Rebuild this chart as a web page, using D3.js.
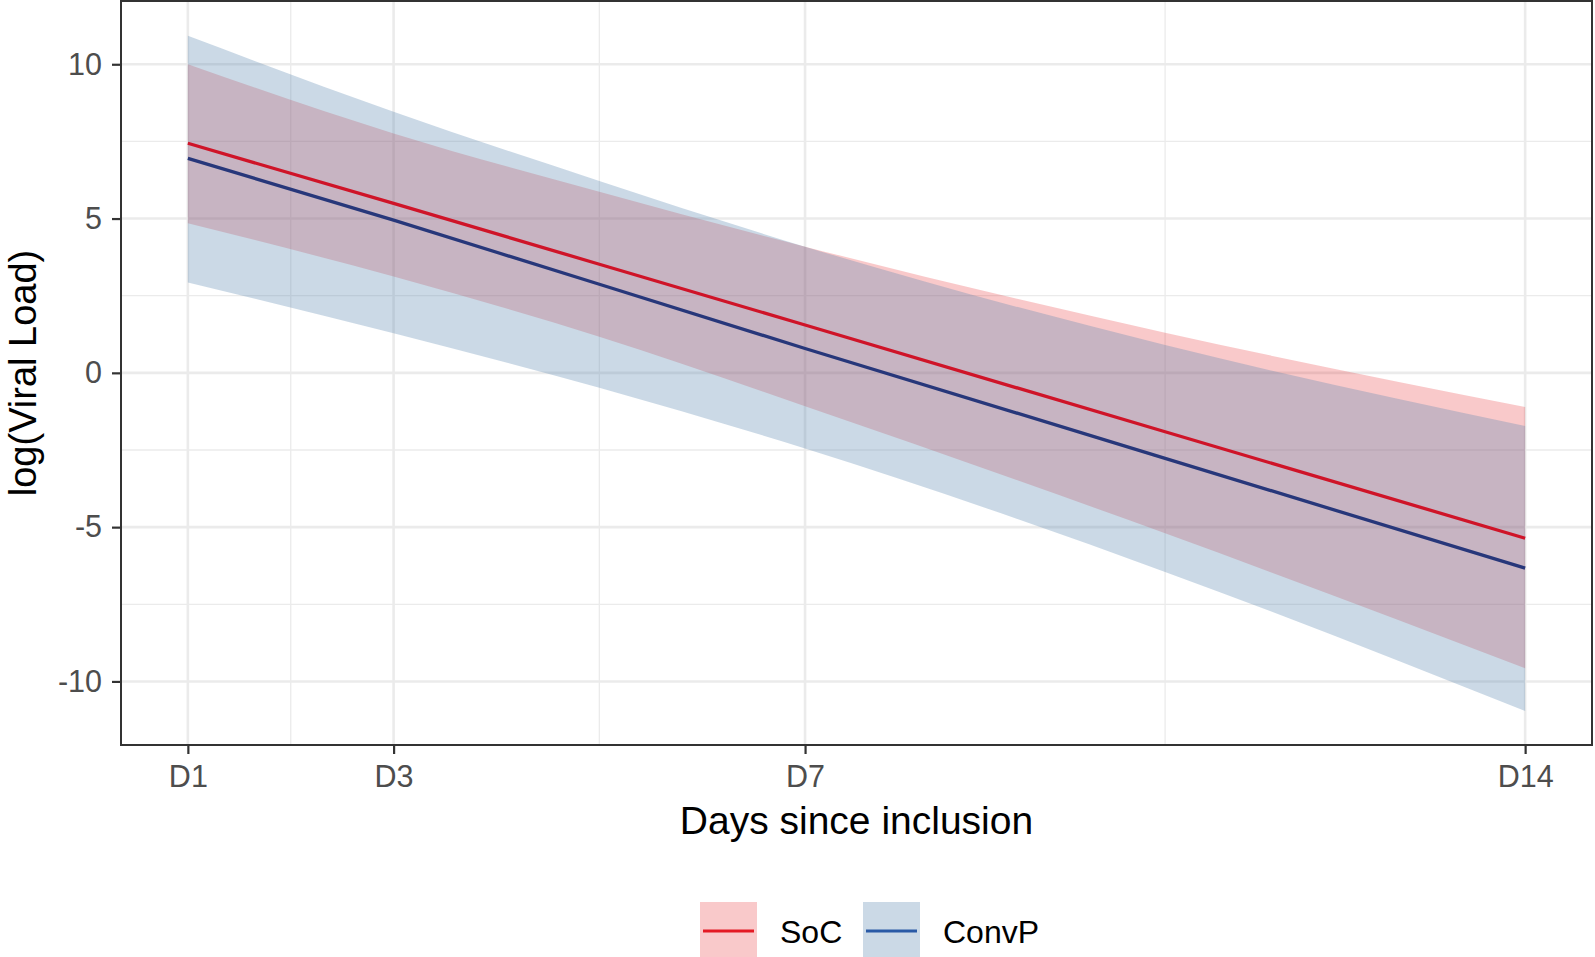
<!DOCTYPE html>
<html>
<head>
<meta charset="utf-8">
<script src="https://cdn.jsdelivr.net/npm/d3@7"></script>
<style>
  html, body { margin: 0; padding: 0; background: #fff; }
  svg { display: block; font-family: "Liberation Sans", Arial, sans-serif; }
</style>
</head>
<body>
<script>
// model predictions, per day since inclusion
const days = [1, 3, 5, 7, 10.5, 14];

const socFit   = [7.44, 5.49, 3.52, 1.55, -1.91, -5.36];
const socLower = [4.85, 3.12, 1.17, -1.08, -5.20, -9.57];
const socUpper = [10.00, 7.76, 5.87, 4.09, 1.30, -1.11];

const convFit   = [6.95, 4.95, 2.87, 0.79, -2.77, -6.33];
const convLower = [2.93, 1.28, -0.48, -2.45, -6.45, -10.96];
const convUpper = [10.92, 8.46, 6.22, 4.09, 0.90, -1.72];

const xTicks = [1, 3, 7, 14];
const xTickLabels = ['D1', 'D3', 'D7', 'D14'];
const xMinor = [2, 5, 10.5];
const yTicks = [-10, -5, 0, 5, 10];
const yMinor = [-7.5, -2.5, 2.5, 7.5];

const width = 1595;
const height = 957;
const margin = {top: 1, left: 121, bottom: 212, right: 3};

const series = [
    {name: 'SoC', fit: socFit, lo: socLower, hi: socUpper,
     fill: 'rgba(228,26,28,0.236)', line: '#cf1428', key: '#e41a24'},
    {name: 'ConvP', fit: convFit, lo: convLower, hi: convUpper,
     fill: 'rgba(92,136,177,0.32)', line: '#27377a', key: '#2a5aa6'}
];

const x = d3.scaleLinear()
    .domain([0.35, 14.65])
    .range([margin.left, width - margin.right]);

const y = d3.scaleLinear()
    .domain([-12.06, 12.05])
    .range([height - margin.bottom, margin.top]);

const svg = d3.select('body').append('svg')
    .attr('width', width)
    .attr('height', height);

// grid
const grid = svg.append('g');
grid.selectAll('.ym').data(yMinor).enter().append('line')
    .attr('x1', x.range()[0]).attr('x2', x.range()[1])
    .attr('y1', d => y(d)).attr('y2', d => y(d))
    .attr('stroke', '#ebebeb').attr('stroke-width', 1.3);
grid.selectAll('.xm').data(xMinor).enter().append('line')
    .attr('y1', y.range()[0]).attr('y2', y.range()[1])
    .attr('x1', d => x(d)).attr('x2', d => x(d))
    .attr('stroke', '#ebebeb').attr('stroke-width', 1.3);
grid.selectAll('.yM').data(yTicks).enter().append('line')
    .attr('x1', x.range()[0]).attr('x2', x.range()[1])
    .attr('y1', d => y(d)).attr('y2', d => y(d))
    .attr('stroke', '#ebebeb').attr('stroke-width', 2.6);
grid.selectAll('.xM').data(xTicks).enter().append('line')
    .attr('y1', y.range()[0]).attr('y2', y.range()[1])
    .attr('x1', d => x(d)).attr('x2', d => x(d))
    .attr('stroke', '#ebebeb').attr('stroke-width', 2.6);

// ribbons
const area = d3.area()
    .x(d => x(d.day))
    .y0(d => y(d.lo))
    .y1(d => y(d.hi))
    .curve(d3.curveMonotoneX);

const line = d3.line()
    .x(d => x(d.day))
    .y(d => y(d.fit));

const rows = s => days.map((day, i) => ({day, fit: s.fit[i], lo: s.lo[i], hi: s.hi[i]}));

svg.append('g').selectAll('path').data(series).enter().append('path')
    .attr('d', s => area(rows(s)))
    .attr('fill', s => s.fill);

svg.append('g').selectAll('path').data(series).enter().append('path')
    .attr('d', s => line(rows(s)))
    .attr('fill', 'none')
    .attr('stroke', s => s.line)
    .attr('stroke-width', 3.3);

// axes
const xAxis = g => g
    .attr('transform', `translate(0, ${height - margin.bottom})`)
    .call(d3.axisBottom(x).tickValues(xTicks)
        .tickFormat((d, i) => xTickLabels[i]).tickSize(9).tickPadding(11).tickSizeOuter(0))
    .call(g => g.select('.domain').remove());

const yAxis = g => g
    .attr('transform', `translate(${margin.left}, 0)`)
    .call(d3.axisLeft(y).tickValues(yTicks).tickFormat(d => String(d))
        .tickSize(9).tickPadding(10).tickSizeOuter(0))
    .call(g => g.select('.domain').remove());

svg.append('g').call(xAxis);
svg.append('g').call(yAxis);
svg.selectAll('.tick line').attr('stroke', '#333').attr('stroke-width', 2.2);
svg.selectAll('.tick text')
    .attr('fill', '#4d4d4d')
    .style('font-size', '30.5px')
    .style('font-family', '"Liberation Sans", Arial, sans-serif');

// panel border
svg.append('rect')
    .attr('x', x.range()[0]).attr('y', y.range()[1])
    .attr('width', x.range()[1] - x.range()[0])
    .attr('height', y.range()[0] - y.range()[1])
    .attr('fill', 'none')
    .attr('stroke', '#333')
    .attr('stroke-width', 2);

// axis titles
svg.append('text')
    .attr('x', (x.range()[0] + x.range()[1]) / 2)
    .attr('y', 834)
    .attr('text-anchor', 'middle')
    .style('font-size', '39px')
    .text('Days since inclusion');

svg.append('text')
    .attr('transform', `translate(36, ${(y.range()[0] + y.range()[1]) / 2}) rotate(-90)`)
    .attr('text-anchor', 'middle')
    .style('font-size', '38px')
    .text('log(Viral Load)');

// legend
const legendX = [700, 863];
const legend = svg.append('g').selectAll('g').data(series).enter().append('g')
    .attr('transform', (d, i) => `translate(${legendX[i]}, 902)`);
legend.append('rect')
    .attr('width', 57).attr('height', 57)
    .attr('fill', s => s.fill);
legend.append('line')
    .attr('x1', 3).attr('x2', 54)
    .attr('y1', 29).attr('y2', 29)
    .attr('stroke', s => s.key)
    .attr('stroke-width', 3);
legend.append('text')
    .attr('x', 80)
    .attr('y', 41)
    .style('font-size', '32px')
    .text(s => s.name);
</script>
</body>
</html>
